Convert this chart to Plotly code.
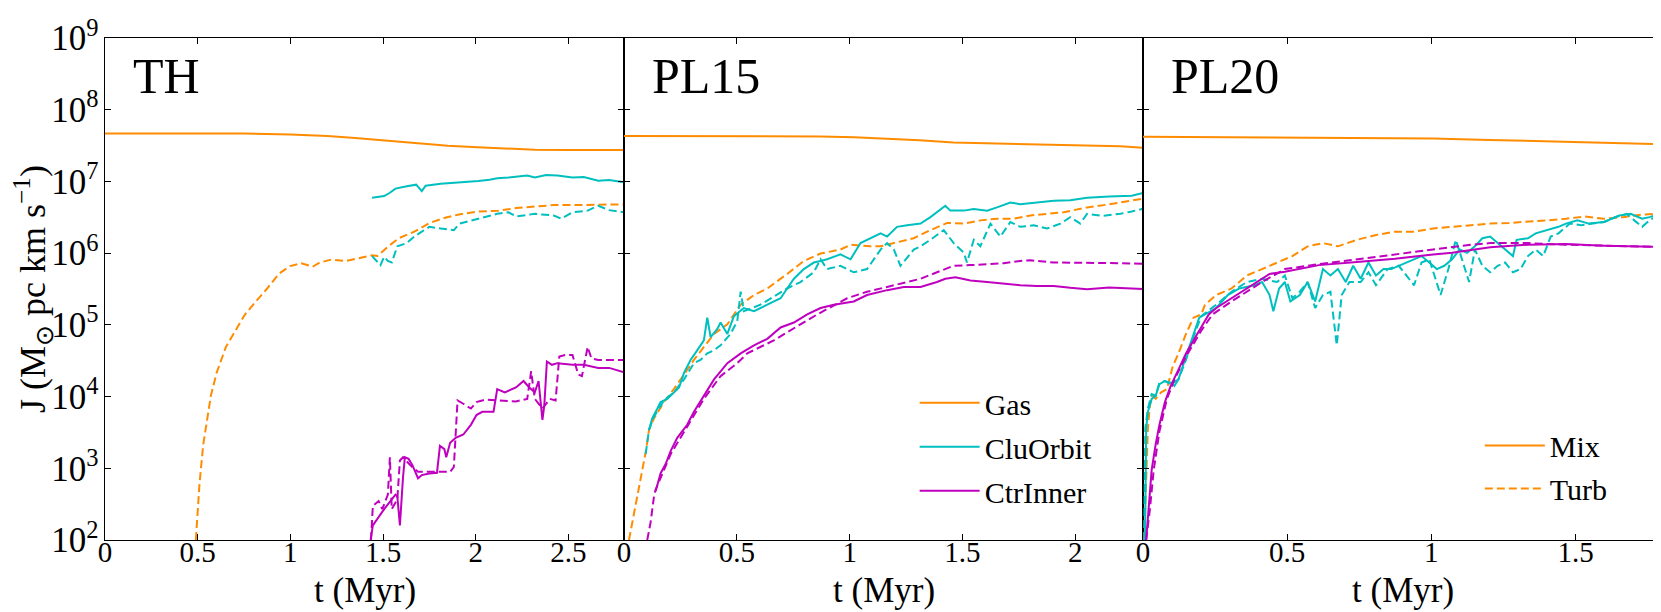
import numpy as np
import plotly.graph_objects as go

# values; J given as log10 J (Msun pc km/s)

# ---- TH ----
th_t_gas_mix = [0, 0.25, 0.5, 0.75, 1.0, 1.1, 1.2, 1.35, 1.47, 1.6, 1.71, 1.85, 2.01, 2.15, 2.32, 2.5, 2.66, 2.8]
th_gas_mix = [7.67, 7.67, 7.67, 7.668, 7.656, 7.645, 7.633, 7.605, 7.579, 7.55, 7.525, 7.497, 7.475, 7.458, 7.443, 7.438, 7.439, 7.44]
th_t_gas_turb = [0.49, 0.50, 0.51, 0.53, 0.551, 0.571, 0.602, 0.652, 0.713, 0.754, 0.815, 0.876, 0.937, 0.998, 1.059, 1.12, 1.16, 1.22, 1.30, 1.384, 1.441, 1.47, 1.526, 1.587, 1.669, 1.75, 1.83, 1.91, 2.01, 2.12, 2.22, 2.32, 2.42, 2.52, 2.66, 2.8]
th_gas_turb = [2.0, 2.43, 2.79, 3.33, 3.70, 4.01, 4.33, 4.69, 4.96, 5.14, 5.33, 5.51, 5.71, 5.82, 5.86, 5.81, 5.87, 5.91, 5.89, 5.94, 5.97, 5.96, 6.09, 6.21, 6.30, 6.42, 6.49, 6.54, 6.58, 6.59, 6.63, 6.65, 6.67, 6.67, 6.68, 6.68]
th_t_clu_mix = [1.441, 1.476, 1.506, 1.537, 1.567, 1.628, 1.679, 1.709, 1.730, 1.811, 1.872, 1.913, 1.974, 2.014, 2.075, 2.116, 2.177, 2.217, 2.278, 2.319, 2.380, 2.441, 2.522, 2.583, 2.661, 2.72, 2.8]
th_clu_mix = [6.774, 6.787, 6.796, 6.842, 6.90, 6.932, 6.955, 6.864, 6.941, 6.968, 6.977, 6.991, 7.0, 7.005, 7.023, 7.045, 7.054, 7.068, 7.081, 7.054, 7.09, 7.081, 7.054, 7.063, 7.009, 7.02, 6.99]
th_t_clu_turb = [1.441, 1.465, 1.486, 1.506, 1.526, 1.547, 1.577, 1.628, 1.669, 1.709, 1.750, 1.811, 1.882, 1.913, 2.014, 2.116, 2.177, 2.217, 2.319, 2.421, 2.461, 2.522, 2.604, 2.661, 2.72, 2.8]
th_clu_turb = [5.959, 5.891, 5.833, 5.95, 5.891, 5.869, 6.095, 6.14, 6.231, 6.299, 6.367, 6.344, 6.321, 6.412, 6.48, 6.548, 6.57, 6.511, 6.548, 6.525, 6.48, 6.57, 6.593, 6.661, 6.60, 6.57]
th_t_ctr_mix = [1.433, 1.445, 1.506, 1.547, 1.567, 1.577, 1.591, 1.608, 1.618, 1.638, 1.659, 1.689, 1.709, 1.750, 1.791, 1.807, 1.831, 1.841, 1.862, 1.892, 1.933, 1.974, 2.004, 2.035, 2.096, 2.116, 2.157, 2.217, 2.258, 2.289, 2.319, 2.339, 2.360, 2.370, 2.384, 2.411, 2.441, 2.522, 2.583, 2.661, 2.72, 2.8]
th_ctr_mix = [2.0, 2.204, 2.43, 2.566, 2.633, 2.61, 2.204, 2.882, 3.154, 3.131, 3.041, 2.86, 2.905, 2.928, 2.937, 3.312, 3.267, 3.154, 3.357, 3.425, 3.471, 3.606, 3.742, 3.787, 3.787, 4.104, 4.059, 4.127, 4.217, 4.127, 4.059, 4.217, 3.674, 3.878, 4.489, 4.443, 4.466, 4.443, 4.443, 4.398, 4.40, 4.34]
th_t_ctr_turb = [1.435, 1.445, 1.476, 1.496, 1.526, 1.537, 1.547, 1.577, 1.591, 1.608, 1.648, 1.689, 1.770, 1.862, 1.882, 1.902, 1.933, 1.974, 2.004, 2.055, 2.116, 2.217, 2.278, 2.299, 2.319, 2.360, 2.400, 2.431, 2.451, 2.482, 2.522, 2.553, 2.573, 2.604, 2.624, 2.661, 2.8]
th_ctr_turb = [2.0, 2.475, 2.543, 2.43, 2.633, 3.154, 2.43, 2.566, 3.109, 3.154, 3.041, 2.95, 2.95, 2.95, 3.018, 3.946, 3.90, 3.833, 3.923, 3.959, 3.946, 3.932, 3.968, 4.353, 3.968, 3.833, 3.968, 3.946, 4.557, 4.579, 4.579, 4.308, 4.285, 4.692, 4.534, 4.511, 4.51]

# ---- PL15 ----
pl15_t_gas_mix = [0, 0.5, 0.87, 1.02, 1.31, 1.46, 1.76, 2.05, 2.2, 2.3]
pl15_gas_mix = [7.633, 7.633, 7.628, 7.615, 7.575, 7.543, 7.52, 7.507, 7.49, 7.47]
pl15_t_gas_turb = [0.022, 0.037, 0.052, 0.074, 0.096, 0.111, 0.133, 0.177, 0.221, 0.266, 0.310, 0.354, 0.399, 0.458, 0.487, 0.517, 0.576, 0.635, 0.723, 0.797, 0.871, 0.959, 1.004, 1.092, 1.137, 1.210, 1.284, 1.358, 1.432, 1.506, 1.579, 1.653, 1.727, 1.801, 1.875, 1.948, 2.052, 2.15, 2.3]
pl15_gas_turb = [2.0, 2.249, 2.475, 2.837, 3.222, 3.538, 3.697, 3.923, 4.104, 4.308, 4.511, 4.692, 4.873, 5.009, 5.145, 5.281, 5.416, 5.507, 5.71, 5.891, 5.995, 6.05, 6.118, 6.095, 6.095, 6.149, 6.208, 6.321, 6.421, 6.412, 6.457, 6.48, 6.48, 6.525, 6.548, 6.57, 6.638, 6.68, 6.76]
pl15_t_clu_mix = [0.111, 0.125, 0.148, 0.162, 0.192, 0.221, 0.244, 0.266, 0.280, 0.295, 0.325, 0.354, 0.369, 0.384, 0.413, 0.428, 0.458, 0.487, 0.531, 0.576, 0.635, 0.694, 0.723, 0.753, 0.797, 0.841, 0.871, 0.900, 0.959, 1.004, 1.048, 1.092, 1.137, 1.166, 1.210, 1.255, 1.314, 1.358, 1.424, 1.446, 1.506, 1.550, 1.609, 1.653, 1.712, 1.756, 1.830, 1.904, 1.978, 2.052, 2.15, 2.25, 2.3]
pl15_clu_mix = [3.538, 3.697, 3.833, 3.923, 3.968, 4.059, 4.127, 4.33, 4.421, 4.511, 4.647, 4.783, 5.10, 4.828, 4.941, 5.032, 4.873, 5.122, 5.235, 5.19, 5.281, 5.371, 5.507, 5.643, 5.778, 5.869, 5.891, 5.914, 5.982, 5.914, 6.14, 6.208, 6.276, 6.231, 6.367, 6.389, 6.412, 6.502, 6.661, 6.593, 6.593, 6.615, 6.593, 6.638, 6.706, 6.683, 6.706, 6.729, 6.738, 6.774, 6.79, 6.80, 6.84]
pl15_t_clu_turb = [0.096, 0.111, 0.133, 0.177, 0.221, 0.266, 0.310, 0.339, 0.369, 0.399, 0.428, 0.472, 0.502, 0.517, 0.531, 0.605, 0.664, 0.723, 0.782, 0.841, 0.871, 0.900, 0.959, 1.018, 1.077, 1.137, 1.166, 1.196, 1.225, 1.284, 1.314, 1.358, 1.417, 1.461, 1.506, 1.520, 1.550, 1.579, 1.624, 1.668, 1.712, 1.756, 1.815, 1.875, 1.934, 1.978, 2.022, 2.052, 2.12, 2.2, 2.25, 2.3]
pl15_clu_turb = [3.199, 3.538, 3.719, 3.946, 4.059, 4.24, 4.466, 4.511, 4.602, 4.647, 4.715, 4.873, 5.054, 5.462, 5.19, 5.281, 5.394, 5.507, 5.597, 5.733, 5.914, 5.778, 5.824, 5.733, 5.778, 6.05, 6.14, 6.05, 5.824, 6.05, 6.095, 6.186, 6.321, 6.14, 6.005, 5.869, 6.186, 6.095, 6.412, 6.231, 6.434, 6.367, 6.389, 6.344, 6.412, 6.502, 6.412, 6.548, 6.52, 6.55, 6.58, 6.62]
pl15_t_ctr_mix = [0.140, 0.162, 0.185, 0.207, 0.236, 0.280, 0.310, 0.354, 0.399, 0.458, 0.517, 0.576, 0.635, 0.694, 0.753, 0.812, 0.871, 0.930, 1.018, 1.077, 1.166, 1.240, 1.314, 1.387, 1.424, 1.469, 1.535, 1.609, 1.683, 1.756, 1.830, 1.904, 1.978, 2.052, 2.15, 2.25, 2.3]
pl15_ctr_mix = [2.679, 2.928, 3.063, 3.244, 3.425, 3.606, 3.787, 4.014, 4.24, 4.466, 4.602, 4.715, 4.805, 4.964, 5.032, 5.145, 5.235, 5.281, 5.326, 5.416, 5.484, 5.529, 5.529, 5.597, 5.643, 5.665, 5.62, 5.597, 5.575, 5.552, 5.543, 5.543, 5.516, 5.498, 5.52, 5.51, 5.50]
pl15_t_ctr_turb = [0.103, 0.118, 0.133, 0.140, 0.207, 0.280, 0.354, 0.428, 0.502, 0.546, 0.605, 0.664, 0.723, 0.797, 0.856, 0.989, 1.077, 1.166, 1.255, 1.314, 1.387, 1.461, 1.535, 1.609, 1.683, 1.756, 1.801, 1.904, 2.052, 2.2, 2.3]
pl15_ctr_turb = [2.0, 2.249, 2.611, 2.701, 3.199, 3.584, 3.968, 4.285, 4.466, 4.602, 4.692, 4.783, 4.896, 5.032, 5.145, 5.371, 5.462, 5.529, 5.597, 5.643, 5.733, 5.824, 5.833, 5.846, 5.86, 5.891, 5.90, 5.869, 5.869, 5.86, 5.85]

# ---- PL20 ----
pl20_t_gas_mix = [0, 0.544, 1.006, 1.2, 1.467, 1.78, 1.8]
pl20_gas_mix = [7.624, 7.615, 7.597, 7.579, 7.552, 7.525, 7.52]
pl20_t_gas_turb = [0.004, 0.007, 0.011, 0.013, 0.017, 0.024, 0.033, 0.044, 0.063, 0.083, 0.103, 0.123, 0.149, 0.175, 0.202, 0.215, 0.254, 0.307, 0.360, 0.413, 0.465, 0.518, 0.571, 0.624, 0.676, 0.742, 0.808, 0.874, 0.940, 1.006, 1.072, 1.138, 1.204, 1.269, 1.335, 1.401, 1.467, 1.533, 1.599, 1.665, 1.731, 1.784]
pl20_gas_turb = [2.0, 2.43, 2.882, 3.335, 3.561, 3.878, 4.014, 3.968, 4.059, 4.104, 4.421, 4.602, 4.873, 5.10, 5.145, 5.281, 5.416, 5.507, 5.688, 5.778, 5.869, 5.959, 6.095, 6.14, 6.095, 6.186, 6.253, 6.299, 6.299, 6.344, 6.367, 6.389, 6.412, 6.421, 6.434, 6.457, 6.48, 6.511, 6.48, 6.502, 6.538, 6.548]
pl20_t_clu_mix = [0.007, 0.011, 0.017, 0.030, 0.044, 0.057, 0.076, 0.096, 0.109, 0.123, 0.149, 0.175, 0.195, 0.254, 0.294, 0.334, 0.386, 0.413, 0.439, 0.452, 0.472, 0.492, 0.511, 0.544, 0.571, 0.597, 0.624, 0.650, 0.676, 0.703, 0.729, 0.755, 0.782, 0.808, 0.834, 0.861, 0.887, 0.914, 0.940, 0.966, 0.993, 1.019, 1.045, 1.072, 1.098, 1.124, 1.151, 1.177, 1.204, 1.230, 1.256, 1.283, 1.296, 1.335, 1.362, 1.401, 1.441, 1.467, 1.507, 1.546, 1.599, 1.625, 1.652, 1.691, 1.731, 1.757, 1.784]
pl20_clu_mix = [2.0, 3.561, 3.787, 3.968, 4.014, 4.172, 4.217, 4.195, 4.149, 4.24, 4.557, 4.873, 5.10, 5.235, 5.416, 5.507, 5.552, 5.597, 5.416, 5.19, 5.507, 5.597, 5.326, 5.416, 5.597, 5.326, 5.778, 5.688, 5.778, 5.597, 5.824, 5.643, 5.869, 5.688, 5.778, 5.778, 5.824, 5.869, 5.914, 5.959, 5.869, 5.778, 5.824, 5.914, 6.05, 6.005, 6.095, 6.208, 6.231, 6.14, 6.05, 5.959, 6.186, 6.208, 6.276, 6.321, 6.367, 6.412, 6.457, 6.412, 6.434, 6.48, 6.525, 6.548, 6.48, 6.502, 6.538]
pl20_t_clu_turb = [0.004, 0.008, 0.017, 0.030, 0.044, 0.057, 0.076, 0.096, 0.123, 0.149, 0.175, 0.202, 0.254, 0.307, 0.360, 0.413, 0.465, 0.492, 0.518, 0.544, 0.571, 0.597, 0.624, 0.650, 0.672, 0.689, 0.716, 0.755, 0.782, 0.808, 0.848, 0.887, 0.914, 0.940, 0.966, 0.993, 1.032, 1.059, 1.085, 1.111, 1.131, 1.151, 1.177, 1.204, 1.230, 1.256, 1.283, 1.309, 1.335, 1.362, 1.388, 1.414, 1.441, 1.480, 1.520, 1.559, 1.599, 1.638, 1.678, 1.704, 1.731, 1.757, 1.784]
pl20_clu_turb = [2.0, 3.561, 3.833, 4.036, 4.014, 4.195, 4.217, 4.172, 4.24, 4.511, 4.828, 5.122, 5.281, 5.462, 5.597, 5.643, 5.597, 5.688, 5.371, 5.462, 5.597, 5.235, 5.416, 5.462, 4.715, 5.416, 5.597, 5.597, 5.733, 5.552, 5.778, 5.824, 5.688, 5.552, 5.869, 5.914, 5.416, 5.778, 6.186, 5.869, 5.597, 6.05, 5.824, 5.733, 5.824, 5.869, 5.733, 5.778, 5.959, 6.05, 5.959, 6.231, 6.276, 6.412, 6.389, 6.412, 6.434, 6.502, 6.548, 6.457, 6.367, 6.457, 6.525]
pl20_t_ctr_mix = [0.011, 0.017, 0.024, 0.030, 0.044, 0.057, 0.076, 0.096, 0.123, 0.149, 0.175, 0.202, 0.228, 0.254, 0.307, 0.373, 0.439, 0.492, 0.610, 0.742, 0.874, 1.006, 1.072, 1.204, 1.335, 1.467, 1.599, 1.784, 1.8]
pl20_ctr_mix = [2.0, 2.339, 2.656, 2.973, 3.335, 3.606, 3.923, 4.149, 4.376, 4.602, 4.783, 4.964, 5.145, 5.235, 5.371, 5.552, 5.71, 5.742, 5.833, 5.878, 5.923, 5.982, 6.005, 6.081, 6.118, 6.127, 6.104, 6.086, 6.085]
pl20_t_ctr_turb = [0.011, 0.024, 0.037, 0.057, 0.083, 0.109, 0.149, 0.202, 0.241, 0.307, 0.413, 0.492, 0.610, 0.742, 0.874, 1.006, 1.138, 1.204, 1.335, 1.467, 1.599, 1.784]
pl20_ctr_turb = [2.0, 2.43, 2.973, 3.516, 3.968, 4.24, 4.557, 4.919, 5.145, 5.326, 5.597, 5.778, 5.846, 5.914, 5.982, 6.05, 6.118, 6.14, 6.14, 6.118, 6.104, 6.086]

panel_names = ["TH", "PL15", "PL20"]
x_max = [2.8, 2.3, 1.8]

ORANGE = "#FF8C00"
CYAN = "#00BFBF"
MAGENTA = "#BF00BF"
FONT = "Liberation Serif"

panels = [
    [(th_t_gas_mix, th_gas_mix, ORANGE, "solid"), (th_t_gas_turb, th_gas_turb, ORANGE, "dash"),
     (th_t_clu_mix, th_clu_mix, CYAN, "solid"), (th_t_clu_turb, th_clu_turb, CYAN, "dash"),
     (th_t_ctr_mix, th_ctr_mix, MAGENTA, "solid"), (th_t_ctr_turb, th_ctr_turb, MAGENTA, "dash")],
    [(pl15_t_gas_mix, pl15_gas_mix, ORANGE, "solid"), (pl15_t_gas_turb, pl15_gas_turb, ORANGE, "dash"),
     (pl15_t_clu_mix, pl15_clu_mix, CYAN, "solid"), (pl15_t_clu_turb, pl15_clu_turb, CYAN, "dash"),
     (pl15_t_ctr_mix, pl15_ctr_mix, MAGENTA, "solid"), (pl15_t_ctr_turb, pl15_ctr_turb, MAGENTA, "dash")],
    [(pl20_t_gas_mix, pl20_gas_mix, ORANGE, "solid"), (pl20_t_gas_turb, pl20_gas_turb, ORANGE, "dash"),
     (pl20_t_clu_mix, pl20_clu_mix, CYAN, "solid"), (pl20_t_clu_turb, pl20_clu_turb, CYAN, "dash"),
     (pl20_t_ctr_mix, pl20_ctr_mix, MAGENTA, "solid"), (pl20_t_ctr_turb, pl20_ctr_turb, MAGENTA, "dash")],
]

# legend entries: panel 2 solids -> Gas/CluOrbit/CtrInner, panel 3 gas -> Mix/Turb
legend_map = {
    (1, 0): ("Gas", "legend"), (1, 2): ("CluOrbit", "legend"), (1, 4): ("CtrInner", "legend"),
    (2, 0): ("Mix", "legend2"), (2, 1): ("Turb", "legend2"),
}

fig = go.Figure()
for p, series in enumerate(panels):
    xa = "x" if p == 0 else "x%d" % (p + 1)
    ya = "y" if p == 0 else "y%d" % (p + 1)
    for s, (t, lj, col, dash) in enumerate(series):
        name, leg = legend_map.get((p, s), (None, "legend"))
        fig.add_trace(go.Scatter(
            x=t, y=10 ** np.array(lj), mode="lines",
            line=dict(color=col, width=2, dash="8px,4px" if dash == "dash" else "solid"),
            xaxis=xa, yaxis=ya, name=name, showlegend=name is not None,
            legend=leg, legendgroup=name,
        ))

axis_common = dict(showline=True, linecolor="black", linewidth=1, mirror="ticks",
                   ticks="inside", ticklen=6, tickcolor="black", showgrid=False, zeroline=False)

layout = dict(
    width=1661, height=612,
    margin=dict(l=97, r=6, t=16, b=80),
    plot_bgcolor="white", paper_bgcolor="white",
    font=dict(family=FONT, color="black"),
)
for p in range(3):
    suf = "" if p == 0 else str(p + 1)
    layout["xaxis" + suf] = dict(axis_common, domain=[p / 3, (p + 1) / 3], range=[0, x_max[p]],
                                 tick0=0, dtick=0.5, anchor="y" + suf, ticklabelstandoff=-14,
                                 tickfont=dict(family=FONT, size=29, color="black"))
    layout["yaxis" + suf] = dict(axis_common, type="log", range=[1.9999, 9.0001], dtick=1,
                                 exponentformat="power", anchor="x" + suf,
                                 showticklabels=(p == 0), ticklabeloverflow="allow",
                                 tickfont=dict(family=FONT, size=28, color="black"))
layout["yaxis"]["title"] = dict(text="J (M<sub>⊙</sub> pc km s<sup>−1</sup>)",
                                font=dict(family=FONT, size=36), standoff=2)

layout["legend"] = dict(x=0.52, y=0.325, xanchor="left", yanchor="top", bgcolor="rgba(0,0,0,0)",
                        font=dict(family=FONT, size=30), itemwidth=60, tracegroupgap=2,
                        traceorder="grouped")
layout["legend2"] = dict(x=0.883, y=0.24, xanchor="left", yanchor="top", bgcolor="rgba(0,0,0,0)",
                         font=dict(family=FONT, size=30), itemwidth=60, tracegroupgap=1,
                         traceorder="grouped")

fig.update_layout(**layout)

for p, name in enumerate(panel_names):
    suf = "" if p == 0 else str(p + 1)
    fig.add_annotation(text=name, xref="x%s domain" % suf, yref="y%s domain" % suf,
                       x=0.05, y=0.925, xanchor="left", yanchor="middle", showarrow=False,
                       font=dict(family=FONT, size=50, color="black"))
    # x-axis title under each panel
    fig.add_annotation(text="t (Myr)", xref="x%s domain" % suf, yref="paper",
                       x=0.5, y=-0.1, xanchor="center", yanchor="middle", showarrow=False,
                       font=dict(family=FONT, size=35, color="black"))

fig.write_html("out.html")
